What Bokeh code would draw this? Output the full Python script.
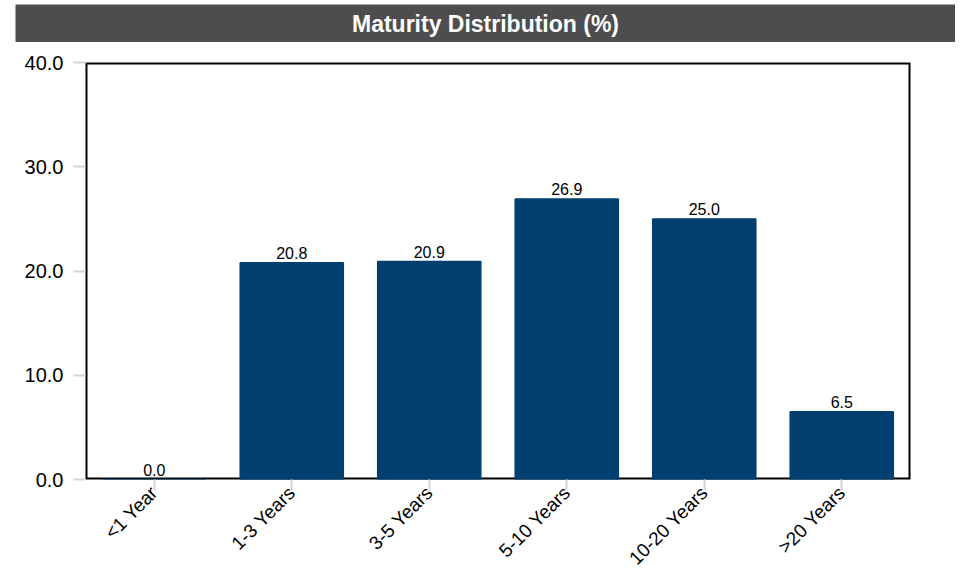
import math
from bokeh.plotting import figure
from bokeh.models import ColumnDataSource, FactorRange, Range1d, BoxAnnotation, PrintfTickFormatter, Spacer
from bokeh.layouts import column, row
from bokeh.core.properties import value
from bokeh.embed import file_html
from bokeh.resources import INLINE

categories = ["<1 Year", "1-3 Years", "3-5 Years", "5-10 Years", "10-20 Years", ">20 Years"]
values = [0.0, 20.8, 20.9, 26.9, 25.0, 6.5]
title_text = "Maturity Distribution (%)"
y_ticks = [0, 10, 20, 30, 40]

FONT = "Liberation Sans"
BAR = "#003f6f"

# Title bar
t = figure(width=940, height=38, x_range=Range1d(0, 1), y_range=Range1d(0, 1),
           output_backend="svg", toolbar_location=None, min_border=0)
t.axis.visible = False
t.grid.visible = False
t.outline_line_color = None
t.background_fill_color = "#4d4d4f"
t.border_fill_color = "#4d4d4f"
t.text(x=[0.5], y=[0.5], text=[title_text], text_align="center", text_baseline="middle",
       text_color="white", text_font=value(FONT), text_font_size="23px", text_font_style="bold")

# Main chart
src = ColumnDataSource(dict(cat=categories, val=values, lab=[f"{v:.1f}" for v in values]))
p = figure(width=955, height=537, x_range=FactorRange(factors=categories, range_padding=0),
           y_range=Range1d(0, 40), output_backend="svg", toolbar_location=None,
           min_border_left=85, min_border_right=45, min_border_top=20, min_border_bottom=100)
p.outline_line_color = None
p.add_layout(BoxAnnotation(fill_color=None, fill_alpha=0, line_color="black", line_alpha=1,
                           line_width=4, level="underlay"))
p.grid.visible = False

p.vbar(x="cat", top="val", bottom=0, width=0.75, source=src, fill_color=BAR,
       line_color=BAR, line_width=1.5)
p.text(x="cat", y="val", text="lab", source=src, text_align="center", text_baseline="bottom",
       y_offset=-4, text_font=value(FONT), text_font_size="16px", text_color="black")

for ax in (p.xaxis[0], p.yaxis[0]):
    ax.axis_line_color = None
    ax.major_tick_line_color = "#d4d4d4"
    ax.major_tick_line_width = 2
    ax.major_tick_in = 0
    ax.minor_tick_line_color = None
    ax.major_label_text_font = FONT
    ax.major_label_text_color = "black"

p.yaxis.major_label_text_font_size = "20px"
p.xaxis.major_label_text_font_size = "19px"
p.yaxis.ticker = y_ticks
p.yaxis.formatter = PrintfTickFormatter(format="%.1f")
p.yaxis.major_tick_out = 12
p.yaxis.major_label_standoff = 10
p.xaxis.major_tick_out = 11
p.xaxis.major_label_standoff = -1
p.xaxis.major_label_orientation = math.pi / 4

layout = column(Spacer(width=10, height=4), row(Spacer(width=15, height=38), t), p)
open("out.html", "w").write(file_html(layout, INLINE))
